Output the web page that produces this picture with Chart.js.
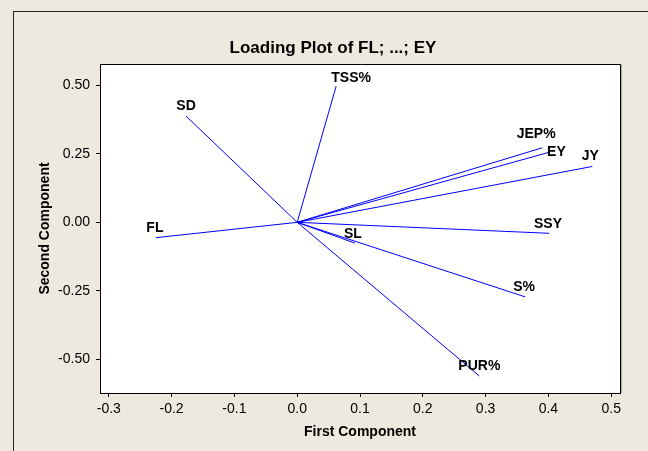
<!DOCTYPE html>
<html><head><meta charset="utf-8">
<script src="https://cdn.jsdelivr.net/npm/chart.js@4/dist/chart.umd.min.js"></script>
<style>
html,body{margin:0;padding:0;background:#EDE9DF;overflow:hidden;}
#wrap{position:relative;width:648px;height:451px;}
#frame{position:absolute;left:13px;top:11px;width:640px;height:450px;border-left:1px solid #222;border-top:1px solid #222;}
canvas{position:absolute;left:0;top:0;}
</style></head>
<body><div id="wrap"><div id="frame"></div><canvas id="c" width="648" height="451"></canvas></div>
<script>
// ---- data ----
const variables = ['FL','SD','TSS%','JEP%','EY','JY','SSY','SL','S%','PUR%'];
const firstComponent  = [-0.225,-0.177, 0.062, 0.390, 0.400, 0.470, 0.401, 0.092, 0.363, 0.290];
const secondComponent = [-0.056, 0.388, 0.497, 0.272, 0.255, 0.204,-0.040,-0.076,-0.272,-0.561];
const xTicks = [-0.3,-0.2,-0.1,0.0,0.1,0.2,0.3,0.4,0.5];
const yTicks = [-0.50,-0.25,0.00,0.25,0.50];
const chartTitle = 'Loading Plot of FL; ...; EY';
const xTitle = 'First Component';
const yTitle = 'Second Component';

// ---- label placement (style) ----
const labelOffsets = [[-1,-10],[0,-10],[15,-8],[-6,-14],[8,0],[-2,-10],[-1,-9],[-2,-9],[-1,-10],[0,-10]];

const datasets = variables.map((v,i)=>({
  label: v,
  data: [{x:0,y:0},{x:firstComponent[i],y:secondComponent[i]}],
  showLine: true,
  borderColor: '#0000FF',
  borderWidth: 1,
  pointRadius: 0,
  fill: false
}));

const FONT = '"Liberation Sans", Arial, sans-serif';

const deco = {
  id: 'deco',
  beforeDraw(chart){
    const {ctx, chartArea:a} = chart;
    ctx.save();
    ctx.fillStyle = '#FFFFFF';
    ctx.fillRect(a.left, a.top, a.right-a.left, a.bottom-a.top);
    ctx.restore();
  },
  afterDraw(chart){
    const {ctx, chartArea:a, scales} = chart;
    ctx.save();
    ctx.strokeStyle = '#000';
    ctx.lineWidth = 1;
    ctx.beginPath();
    ctx.moveTo(a.left, a.top+0.5); ctx.lineTo(a.right+0.5, a.top+0.5); ctx.lineTo(a.right+0.5, a.bottom);
    ctx.stroke();
    ctx.strokeStyle = '#AAAAAA';
    ctx.beginPath();
    ctx.moveTo(a.right+1.5, a.top); ctx.lineTo(a.right+1.5, a.bottom);
    ctx.stroke();
    ctx.fillStyle = '#000';
    ctx.textAlign = 'center';
    ctx.textBaseline = 'middle';
    ctx.font = 'bold 17px ' + FONT;
    ctx.fillText(chartTitle, (a.left+a.right)/2 - 27, 48);
    ctx.font = 'bold 14px ' + FONT;
    ctx.fillText(xTitle, (a.left+a.right)/2, 432);
    ctx.save();
    ctx.translate(45, (a.top+a.bottom)/2);
    ctx.rotate(-Math.PI/2);
    ctx.fillText(yTitle, 0, 0);
    ctx.restore();
    ctx.font = 'bold 14px ' + FONT;
    variables.forEach((v,i)=>{
      const px = scales.x.getPixelForValue(firstComponent[i]);
      const py = scales.y.getPixelForValue(secondComponent[i]);
      ctx.fillText(v, px + labelOffsets[i][0], py + labelOffsets[i][1]);
    });
    ctx.restore();
  }
};

new Chart(document.getElementById('c'), {
  type: 'scatter',
  data: { datasets },
  plugins: [deco],
  options: {
    responsive: false,
    animation: false,
    layout: { padding: { top: 64, right: 28, left: 0, bottom: 0 } },
    plugins: { legend: { display: false }, tooltip: { enabled: false }, title: { display: false } },
    scales: {
      x: {
        type: 'linear', min: -0.314, max: 0.514,
        afterFit: s => { s.height = 58; },
        afterBuildTicks: s => { s.ticks = xTicks.map(v => ({ value: v })); },
        ticks: { color: '#000', font: { family: FONT, size: 14 }, padding: 4, maxRotation: 0,
                 callback: v => v.toFixed(1) },
        grid: { drawOnChartArea: false, drawTicks: true, tickLength: 4, color: '#000' },
        border: { display: true, color: '#000', width: 1 }
      },
      y: {
        type: 'linear', min: -0.623, max: 0.578,
        afterFit: s => { s.width = 100; },
        afterBuildTicks: s => { s.ticks = yTicks.map(v => ({ value: v })); },
        ticks: { color: '#000', font: { family: FONT, size: 14 }, padding: 6,
                 callback: v => v.toFixed(2) },
        grid: { drawOnChartArea: false, drawTicks: true, tickLength: 4, color: '#000' },
        border: { display: true, color: '#000', width: 1 }
      }
    }
  }
});
</script>
</body></html>
